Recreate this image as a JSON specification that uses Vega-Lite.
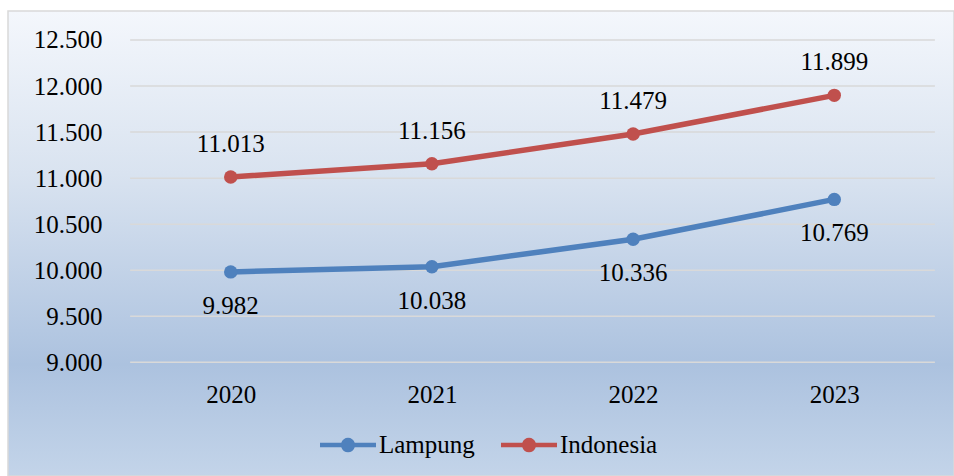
{
  "$schema": "https://vega.github.io/schema/vega-lite/v6.json",
  "autosize": "none",
  "width": 946,
  "height": 465,
  "padding": {"left": 8, "top": 11, "right": 0, "bottom": 0},
  "background": "#ffffff",
  "config": {
    "locale": {"number": {"decimal": ",", "thousands": ".", "grouping": [3], "currency": ["", ""]}},
    "font": "Liberation Serif",
    "view": {
      "stroke": "#d9d9d9",
      "strokeWidth": 1.5,
      "fill": {
        "gradient": "linear",
        "x1": 0, "y1": 0, "x2": 0, "y2": 1,
        "stops": [
          {"offset": 0, "color": "#f4f7fc"},
          {"offset": 0.35, "color": "#d9e3f0"},
          {"offset": 0.76, "color": "#acc2df"},
          {"offset": 1, "color": "#c3d4e9"}
        ]
      }
    }
  },
  "datasets": {
    "series": [
      {"year": 2020, "region": "Lampung", "value": 9982},
      {"year": 2021, "region": "Lampung", "value": 10038},
      {"year": 2022, "region": "Lampung", "value": 10336},
      {"year": 2023, "region": "Lampung", "value": 10769},
      {"year": 2020, "region": "Indonesia", "value": 11013},
      {"year": 2021, "region": "Indonesia", "value": 11156},
      {"year": 2022, "region": "Indonesia", "value": 11479},
      {"year": 2023, "region": "Indonesia", "value": 11899}
    ],
    "grid": [
      {"tick": 9000}, {"tick": 9500}, {"tick": 10000}, {"tick": 10500},
      {"tick": 11000}, {"tick": 11500}, {"tick": 12000}, {"tick": 12500}
    ]
  },
  "layer": [
    {
      "data": {"name": "grid"},
      "mark": {"type": "rule", "color": "#d9d9d9", "strokeWidth": 1.5},
      "encoding": {
        "y": {"field": "tick", "type": "quantitative",
              "scale": {"domain": [7765.5, 12814.9], "nice": false, "zero": false},
              "axis": {"orient": "left", "offset": -94, "values": [9000, 9500, 10000, 10500, 11000, 11500, 12000, 12500],
                       "format": ",.0f", "grid": false, "domain": false, "ticks": false, "tickSize": 0, "labelPadding": 0,
                       "labelFont": "Liberation Serif", "labelFontSize": 25, "labelColor": "#000000", "title": null}},
        "x": {"datum": 2019.5, "type": "quantitative",
              "scale": {"domain": [2018.893, 2023.595], "nice": false, "zero": false},
              "axis": {"orient": "bottom", "offset": -82, "values": [2020, 2021, 2022, 2023], "format": "d",
                       "grid": false, "domain": false, "ticks": false, "tickSize": 0, "labelPadding": 0,
                       "labelBaseline": "middle", "labelFont": "Liberation Serif", "labelFontSize": 25,
                       "labelColor": "#000000", "title": null}},
        "x2": {"datum": 2023.5}
      }
    },
    {
      "data": {"name": "series"},
      "mark": {"type": "line", "strokeWidth": 5.5, "point": {"filled": true, "size": 180, "opacity": 1}},
      "encoding": {
        "x": {"field": "year", "type": "quantitative"},
        "y": {"field": "value", "type": "quantitative"},
        "color": {"field": "region", "type": "nominal",
                  "scale": {"domain": ["Lampung", "Indonesia"], "range": ["#4f81bd", "#c0504d"]},
                  "legend": {"orient": "none", "direction": "horizontal", "legendX": 312, "legendY": 406,
                             "title": null, "padding": 0,
                             "symbolType": "M -1 -0.08 L -0.24 -0.08 A 0.25 0.25 0 0 1 0.24 -0.08 L 1 -0.08 L 1 0.08 L 0.24 0.08 A 0.25 0.25 0 0 1 -0.24 0.08 L -1 0.08 Z",
                             "symbolSize": 3136, "symbolStrokeWidth": 0, "symbolFillColor": null,
                             "labelFont": "Liberation Serif", "labelFontSize": 25, "labelColor": "#000000",
                             "labelOffset": 3, "columnPadding": 26, "labelLimit": 300}},
        "order": {"field": "year"}
      }
    },
    {
      "data": {"name": "series"},
      "transform": [{"filter": "datum.region === 'Indonesia'"}],
      "mark": {"type": "text", "dy": -33, "baseline": "middle", "align": "center", "fontSize": 25, "font": "Liberation Serif", "color": "#000000"},
      "encoding": {
        "x": {"field": "year", "type": "quantitative"},
        "y": {"field": "value", "type": "quantitative"},
        "text": {"field": "value", "type": "quantitative", "format": ",.0f"}
      }
    },
    {
      "data": {"name": "series"},
      "transform": [{"filter": "datum.region === 'Lampung'"}],
      "mark": {"type": "text", "dy": 34, "baseline": "middle", "align": "center", "fontSize": 25, "font": "Liberation Serif", "color": "#000000"},
      "encoding": {
        "x": {"field": "year", "type": "quantitative"},
        "y": {"field": "value", "type": "quantitative"},
        "text": {"field": "value", "type": "quantitative", "format": ",.0f"}
      }
    }
  ]
}
